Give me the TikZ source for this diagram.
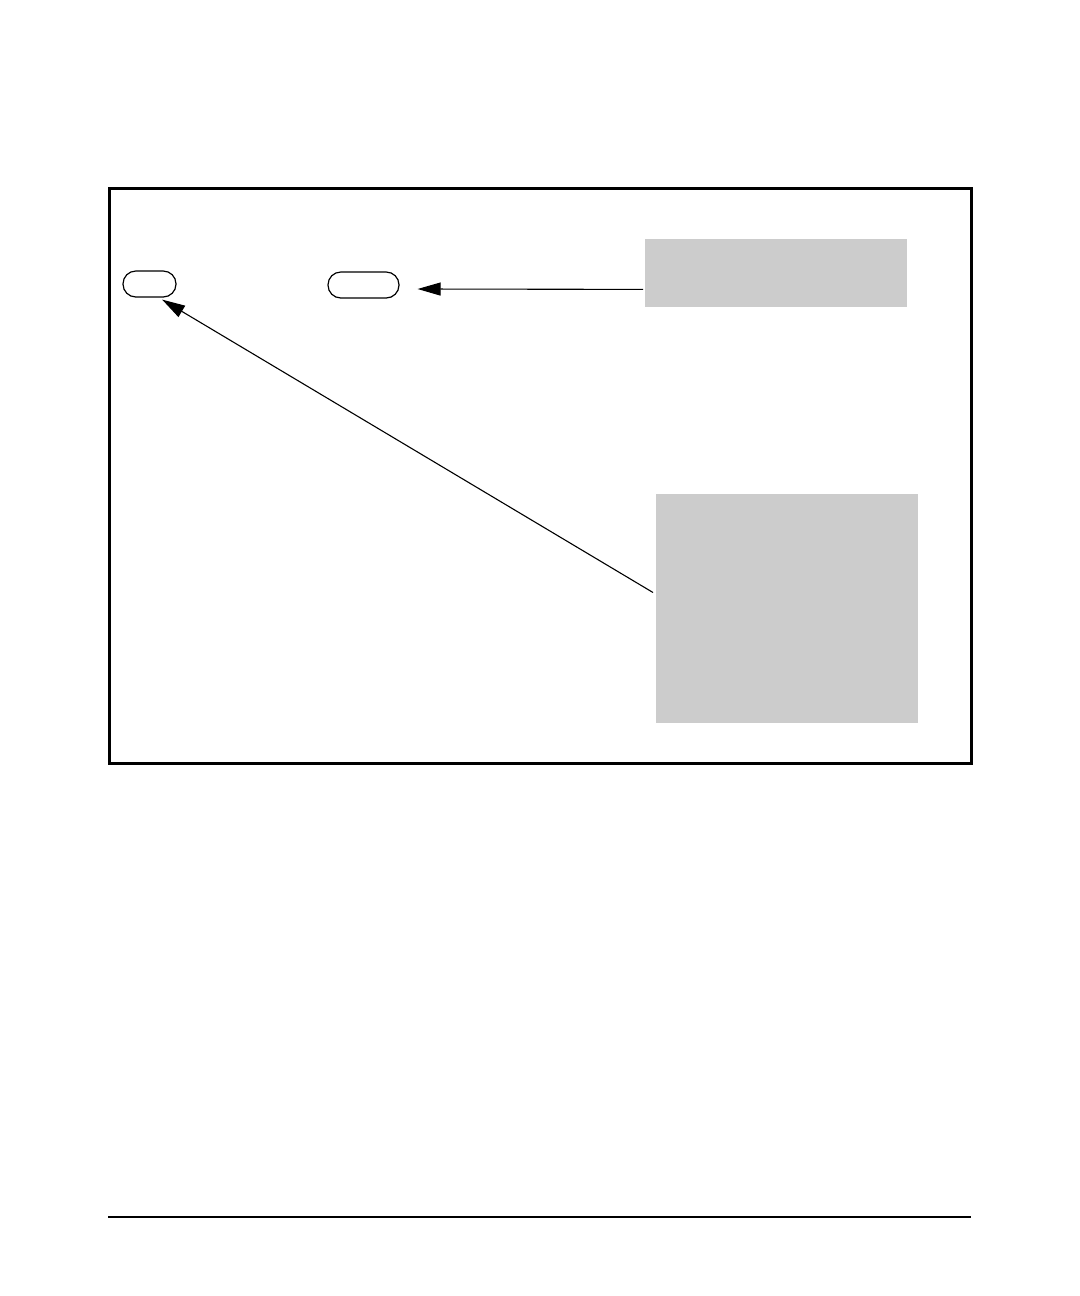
\documentclass[tikz,border=0pt]{standalone}
\usetikzlibrary{arrows.meta}
\definecolor{boxgray}{HTML}{CCCCCC}
\begin{document}
\begin{tikzpicture}[x=0.5pt,y=-0.5pt,
  oval/.style={draw,line width=0.6pt,rectangle,rounded corners=6.4pt,inner sep=0pt,minimum height=13pt},
  graybox/.style={fill=boxgray,draw=none,inner sep=0pt,anchor=north west},
  conn/.style={line width=0.55pt,-{Triangle[length=11.5pt,width=6.5pt]}}]
\useasboundingbox (0,0) rectangle (1080,1296);
% frame
\draw[line width=1.5pt] (109,188) rectangle (971,763);
% ovals
\node[oval,minimum width=26.5pt] (ovalA) at (149.5,284) {};
\node[oval,minimum width=35.5pt] (ovalB) at (363.5,285) {};
% gray boxes
\node[graybox,minimum width=131pt,minimum height=34pt] (boxA) at (645,239) {};
\node[graybox,minimum width=131pt,minimum height=114.5pt] (boxB) at (656,494) {};
% connectors
\draw[conn] ([xshift=-1pt,yshift=-8pt]boxA.west) -- ([xshift=9pt,yshift=-2pt]ovalB.east);
\draw[conn] ([xshift=-1.5pt,yshift=8.2pt]boxB.west) -- ([xshift=6.3pt,yshift=-1pt]ovalA.south);
% bottom rule
\draw[line width=0.8pt] (108,1217) -- (971,1217);
\end{tikzpicture}
\end{document}
